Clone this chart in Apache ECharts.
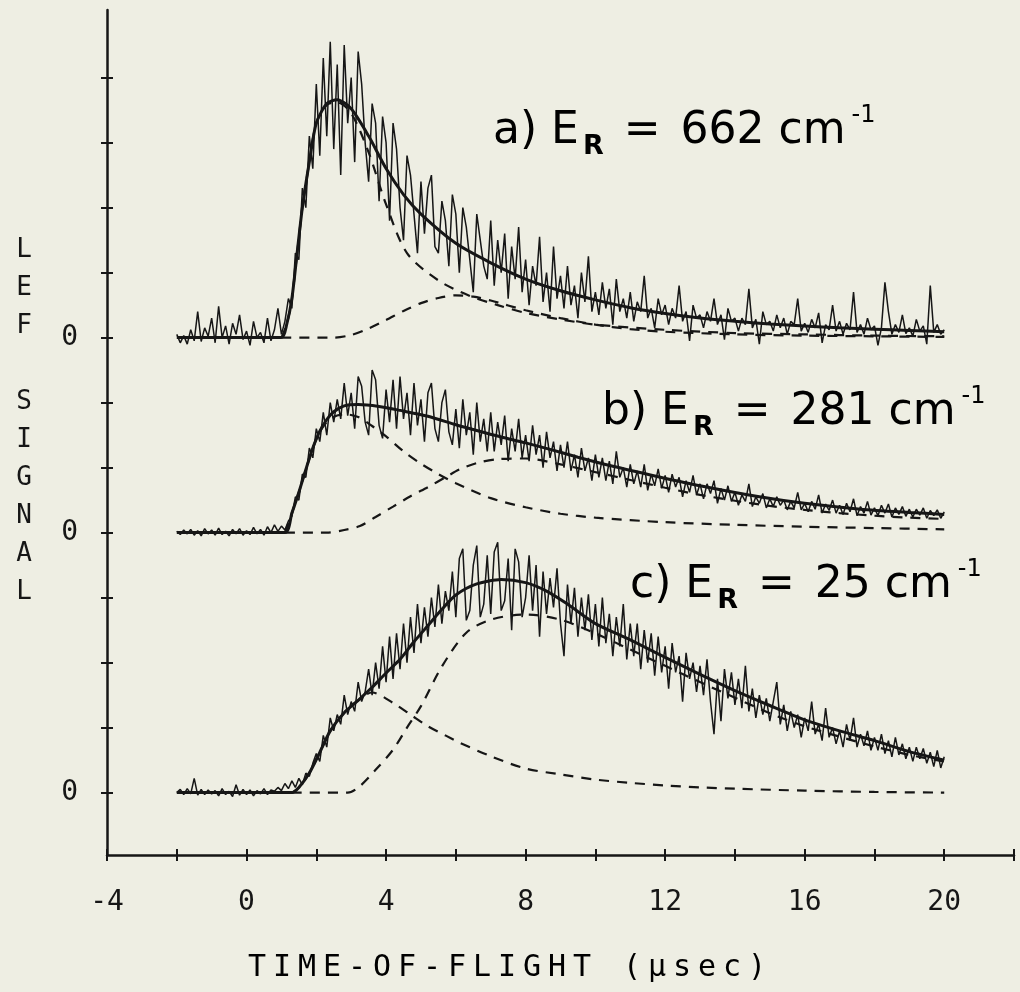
<!DOCTYPE html>
<html>
<head>
<meta charset="utf-8">
<script src="https://cdn.jsdelivr.net/npm/echarts@6/dist/echarts.min.js"></script>
<style>
  html, body { margin: 0; padding: 0; background: #eeeee3; }
  #chart { width: 1020px; height: 992px; }
</style>
</head>
<body>
<div id="chart"></div>
<script>
'use strict'
// raw LEF traces, sampled every 0.1 usec from -2 usec, values in 1/100 of a y tick
var xStart = -2, xStep = 0.1;

var noisyA = [
  5, -8, 3, -10, 12, -5, 40, -6, 15, 2,
  30, -8, 48, 0, 18, -10, 22, 5, 35, -3,
  10, -12, 25, 0, 8, -8, 30, -5, 12, 45,
  5,
  25, 60, 45, 130, 120, 230, 200, 310, 260, 390,
  280, 430, 310, 455, 290, 420, 250, 450, 330, 400,
  270, 440, 390, 300, 240, 360, 330, 210, 340, 300,
  180, 330, 290, 200, 150, 280, 250, 190, 130, 240,
  160, 230, 250, 140, 130, 210, 180, 110, 220, 190,
  100, 200, 170, 120, 70, 190, 150, 110, 90, 180,
  80, 150, 100, 160, 60, 140, 90, 170, 70, 120,
  50, 110, 80, 155, 55, 100, 40, 140, 60, 95,
  45, 110, 50, 80, 30, 100, 55, 125, 40, 70,
  35, 85, 45, 75, 20, 90, 40, 60, 30, 70,
  25, 55, 40, 95, 30, 45, 15, 60, 35, 50,
  20, 45, 30, 80, 25, 40, -5, 50, 30, 35,
  15, 40, 25, 60, 20, 35, -3, 45, 25, 30,
  10, 30, 20, 75, 15, 28, -10, 40, 20, 25,
  10, 35, 15, 30, 5, 25, 20, 60, 10, 22,
  8, 28, 15, 38, -8, 20, 12, 50, 10, 25,
  5, 22, 12, 70, 8, 20, 5, 30, 12, 18,
  -12, 15, 85, 40, 5, 20, 8, 35, 6, 15,
  2, 28, 10, 18, -10, 80, 8, 20, 5, 12
];

var noisyB = [
  2, -3, 4, -2, 5, -4, 3, -5, 6, -2,
  4, -4, 7, -3, 2, -5, 5, -2, 6, -4,
  3, -3, 8, -2, 5, -4, 9, 0, 12, 2,
  10, 4,
  18, 25, 55, 50, 90, 85, 130, 115, 160,
  140, 185, 150, 200, 170, 205, 175, 230, 180, 215,
  160, 240, 225, 170, 150, 250, 235, 165, 145, 220,
  170, 235, 160, 240, 175, 215, 150, 230, 165, 205,
  140, 215, 230, 160, 140, 200, 220, 155, 135, 190,
  130, 205, 150, 185, 120, 200, 140, 175, 125, 185,
  125, 170, 135, 180, 110, 160, 125, 175, 115, 150,
  110, 165, 120, 150, 100, 155, 115, 140, 95, 135,
  100, 140, 95, 120, 85, 130, 95, 115, 80, 120,
  85, 115, 80, 110, 75, 125, 85, 100, 70, 105,
  75, 95, 70, 105, 65, 90, 72, 98, 68, 88,
  62, 90, 70, 85, 55, 80, 62, 88, 58, 75,
  52, 75, 60, 80, 45, 68, 50, 72, 48, 62,
  42, 58, 48, 75, 40, 55, 45, 60, 38, 52,
  40, 55, 42, 50, 35, 48, 38, 62, 35, 45,
  32, 48, 36, 58, 30, 44, 34, 50, 30, 42,
  28, 45, 32, 52, 26, 40, 30, 48, 27, 38,
  26, 42, 30, 44, 24, 38, 28, 40, 25, 36,
  24, 36, 27, 38, 22, 34, 26, 35, 22, 32
];

var noisyC = [
  0, 5, -3, 6, -2, 22, -4, 5, -3, 4,
  -2, 3, -5, 6, -3, 2, -6, 12, -4, 5,
  -3, 4, -5, 3, -2, 6, -3, 4, 2, 8,
  3, 14, 6, 18,
  8, 22, 12, 30, 25, 45, 60, 48, 88, 70,
  115, 95, 120, 105, 150, 120, 140,
  125, 170, 140, 155, 190, 150, 200, 160, 225, 170,
  240, 175, 245, 190, 260, 200, 270, 215, 290, 230,
  285, 240, 300, 255, 320, 260, 310, 280, 340, 270,
  360, 375, 265, 280, 350, 380, 270, 290, 365, 275,
  370, 385, 280, 295, 360, 250, 375, 355, 270, 300,
  365, 280, 350, 240, 340, 275, 330, 285, 345, 260,
  210, 320, 260, 315, 240, 300, 250, 305, 235, 290,
  225, 300, 230, 275, 210, 270, 225, 290, 205, 260,
  210, 260, 190, 250, 200, 245, 180, 240, 185, 225,
  160, 230, 185, 210, 140, 215, 175, 200, 155, 195,
  150, 205, 140, 90, 175, 110, 190, 145, 185, 135,
  175, 130, 195, 125, 160, 115, 150, 120, 145, 110,
  140, 170, 105, 135, 95, 125, 100, 120, 85, 115,
  95, 140, 90, 105, 80, 130, 85, 100, 75, 95,
  70, 105, 80, 115, 70, 90, 72, 95, 65, 85,
  65, 90, 60, 80, 55, 85, 58, 75, 52, 70,
  48, 70, 52, 68, 45, 62, 40, 65, 38, 55
];

// fitted curves (solid) and the two components (dashed), in y ticks
var fitAX = [-2, 1.0, 1.15, 1.3, 1.45, 1.6, 1.8, 2.0, 2.3, 2.6, 3.0, 3.5, 4.0, 4.5, 5.0, 6.0, 7.0, 8.0, 9.0, 10, 11, 12, 13, 14, 15, 16, 17, 18, 19, 20];
var fitAY = [0, 0, 0.2, 0.6, 1.3, 2.0, 2.7, 3.3, 3.6, 3.66, 3.52, 3.1, 2.6, 2.2, 1.9, 1.45, 1.15, 0.9, 0.72, 0.58, 0.46, 0.37, 0.3, 0.25, 0.21, 0.18, 0.15, 0.13, 0.11, 0.09];
var fastAX = [1.0, 1.15, 1.3, 1.45, 1.6, 1.8, 2.0, 2.3, 2.6, 3.0, 3.5, 4.0, 4.6, 5.5, 6.4, 7.2, 8, 9, 10, 12, 14, 16, 18, 20];
var fastAY = [0, 0.2, 0.6, 1.3, 2.0, 2.7, 3.3, 3.58, 3.62, 3.45, 2.85, 2.05, 1.3, 0.88, 0.64, 0.5, 0.38, 0.28, 0.2, 0.12, 0.07, 0.05, 0.03, 0.02];
var slowAX = [1.0, 2.5, 3, 3.5, 4, 4.5, 5, 5.5, 6, 6.5, 7, 8, 9, 10, 11, 12, 14, 16, 18, 20];
var slowAY = [0, 0, 0.04, 0.14, 0.27, 0.41, 0.53, 0.61, 0.65, 0.63, 0.57, 0.42, 0.3, 0.2, 0.13, 0.09, 0.05, 0.03, 0.02, 0.01];

var fitBX = [-2, 1.1, 1.3, 1.5, 1.7, 1.9, 2.1, 2.3, 2.5, 2.8, 3.2, 3.8, 4.4, 5.2, 6.0, 6.6, 7.3, 8.0, 8.7, 9.5, 10.5, 11.8, 13, 14.7, 16, 17.6, 19, 20];
var fitBY = [0, 0, 0.3, 0.62, 0.97, 1.3, 1.56, 1.74, 1.86, 1.95, 1.97, 1.94, 1.88, 1.79, 1.66, 1.57, 1.47, 1.38, 1.28, 1.16, 1.02, 0.86, 0.72, 0.55, 0.45, 0.36, 0.31, 0.28];
var fastBX = [1.1, 1.3, 1.5, 1.7, 1.9, 2.1, 2.4, 2.8, 3.2, 3.6, 4.0, 4.5, 5.0, 5.5, 6.0, 7.0, 8.0, 9.0, 10, 12, 14, 16, 18, 20];
var fastBY = [0, 0.3, 0.62, 0.97, 1.3, 1.55, 1.75, 1.82, 1.78, 1.64, 1.48, 1.25, 1.06, 0.9, 0.76, 0.53, 0.39, 0.29, 0.23, 0.16, 0.12, 0.09, 0.07, 0.05];
var slowBX = [1.1, 2.3, 2.8, 3.25, 3.7, 4.2, 4.7, 5.2, 5.7, 6.1, 6.6, 7.2, 8.0, 9.0, 10, 11, 12, 13, 14, 15, 16, 17, 18, 19, 20];
var slowBY = [0, 0, 0.04, 0.1, 0.24, 0.4, 0.56, 0.7, 0.85, 0.97, 1.07, 1.13, 1.14, 1.05, 0.93, 0.81, 0.69, 0.58, 0.49, 0.41, 0.35, 0.3, 0.26, 0.23, 0.21];

var fitCX = [-2, 1.3, 1.5, 1.8, 2.1, 2.4, 2.8, 3.2, 3.6, 4.0, 4.4, 4.8, 5.2, 5.6, 6.0, 6.6, 7.3, 8.0, 8.6, 9.2, 10, 11, 12, 13, 14, 15, 16, 17, 18, 19, 20];
var fitCY = [0, 0, 0.08, 0.3, 0.62, 0.95, 1.23, 1.42, 1.62, 1.84, 2.05, 2.32, 2.57, 2.82, 3.04, 3.21, 3.28, 3.23, 3.1, 2.9, 2.6, 2.35, 2.08, 1.82, 1.57, 1.34, 1.12, 0.95, 0.8, 0.63, 0.5];
var fastCX = [1.3, 1.5, 1.8, 2.1, 2.4, 2.8, 3.2, 3.6, 4.2, 4.7, 5.2, 5.7, 6.1, 7.0, 8.0, 9.0, 10, 11, 12, 13, 14, 16, 18, 20];
var fastCY = [0, 0.08, 0.3, 0.62, 0.95, 1.23, 1.42, 1.54, 1.38, 1.2, 1.02, 0.88, 0.77, 0.56, 0.37, 0.28, 0.2, 0.15, 0.11, 0.08, 0.06, 0.03, 0.01, 0];
var slowCX = [1.3, 2.9, 3.25, 3.7, 4.2, 4.6, 5.0, 5.6, 6.3, 7.0, 8.0, 9.0, 10, 11, 12, 13, 14, 15, 16, 17, 18, 19, 20];
var slowCY = [0, 0, 0.1, 0.35, 0.66, 1.0, 1.33, 1.94, 2.46, 2.66, 2.74, 2.66, 2.45, 2.2, 1.95, 1.7, 1.46, 1.22, 1.02, 0.86, 0.71, 0.58, 0.48];

// vertical offset of each trace (in y ticks) and axis labels
var offsetA = 7, offsetB = 4, offsetC = 0;
var xLabelValues = [-4, 0, 4, 8, 12, 16, 20];
var yZeroValues = [offsetC, offsetB, offsetA];
var yTickValues = [0, 1, 2, 3, 4, 5, 6, 7, 8, 9, 10, 11];

var INK = '#161616';
var PLOT_FONT = 'DejaVu Sans Mono';
var NOTE_FONT = 'DejaVu Sans';

function raw(vals, off) {
  return vals.map(function (v, i) {
    return [+(xStart + i * xStep).toFixed(1), v / 100 + off];
  });
}
function curve(xs, ys, off) {
  return xs.map(function (x, i) { return [x, ys[i] + off]; });
}
function line(data, width, dashed, smooth, z) {
  return {
    type: 'line', data: data, symbol: 'none', showSymbol: false, silent: true,
    smooth: smooth, z: z,
    lineStyle: { color: INK, width: width, type: dashed ? [10, 8] : 'solid' }
  };
}

var series = [];
[[noisyA, fitAX, fitAY, fastAX, fastAY, slowAX, slowAY, offsetA],
 [noisyB, fitBX, fitBY, fastBX, fastBY, slowBX, slowBY, offsetB],
 [noisyC, fitCX, fitCY, fastCX, fastCY, slowCX, slowCY, offsetC]].forEach(function (t) {
  series.push(line(raw(t[0], t[7]), 1.5, false, false, 2));
  series.push(line(curve(t[3], t[4], t[7]), 2.2, true, 0.3, 3));
  series.push(line(curve(t[5], t[6], t[7]), 2.2, true, 0.3, 3));
  series.push(line(curve(t[1], t[2], t[7]), 3, false, 0.25, 4));
});

// title letters at a fixed pitch, like the plotter lettering
function spaced(str, key) {
  return str.split('').map(function (c) { return '{' + key + '|' + c + '}'; }).join('');
}

var noteRich = {
  t: { fontSize: 44, fontFamily: NOTE_FONT, color: INK, lineHeight: 56, verticalAlign: 'middle' },
  s: { fontSize: 27, fontFamily: NOTE_FONT, fontWeight: 'bold', color: INK, lineHeight: 22, verticalAlign: 'bottom', padding: [0, 0, 0, 4] },
  e: { fontSize: 44, fontFamily: NOTE_FONT, color: INK, lineHeight: 56, verticalAlign: 'middle', padding: [0, 20, 0, 20] },
  p: { fontSize: 24, fontFamily: NOTE_FONT, color: INK, lineHeight: 34, verticalAlign: 'top', padding: [0, 0, 0, 6] }
};
function note(letter, value, x, y) {
  return {
    type: 'text', x: x, y: y, silent: true,
    style: {
      text: '{t|' + letter + ') E}{s|R}{e|=}{t|' + value + ' cm}{p|-1}',
      rich: noteRich, verticalAlign: 'middle', align: 'left'
    }
  };
}

var chart = echarts.init(document.getElementById('chart'));
chart.setOption({
  backgroundColor: '#eeeee3',
  animation: false,
  grid: { left: 107, right: 6, top: 10, bottom: 137 },
  xAxis: [
    {
      type: 'value', min: -4, max: 22, interval: 2, position: 'bottom',
      axisLine: { onZero: false, lineStyle: { color: INK, width: 2.5 } },
      axisTick: { length: 6, lineStyle: { color: INK, width: 2 } },
      axisLabel: { customValues: xLabelValues, margin: 34, fontSize: 28, fontFamily: PLOT_FONT, color: INK },
      splitLine: { show: false }
    },
    {
      type: 'value', min: -4, max: 22, interval: 2, position: 'bottom',
      axisLine: { show: false, onZero: false },
      axisTick: { inside: true, length: 6, lineStyle: { color: INK, width: 2 } },
      axisLabel: { show: false },
      splitLine: { show: false }
    }
  ],
  yAxis: [
    {
      type: 'value', min: -0.96, max: 12.04, position: 'left',
      axisLine: { show: true, onZero: false, lineStyle: { color: INK, width: 2.5 } },
      axisTick: { show: true, customValues: yTickValues, length: 6, lineStyle: { color: INK, width: 2 } },
      axisLabel: {
        customValues: yZeroValues, margin: 29, fontSize: 28, fontFamily: PLOT_FONT, color: INK,
        formatter: function () { return '0'; }
      },
      splitLine: { show: false }
    },
    {
      type: 'value', min: -0.96, max: 12.04, position: 'left',
      axisLine: { show: false, onZero: false },
      axisTick: { show: true, inside: true, customValues: yTickValues, length: 6, lineStyle: { color: INK, width: 2 } },
      axisLabel: { show: false },
      splitLine: { show: false }
    }
  ],
  graphic: [
    {
      type: 'text', x: 24, y: 421, silent: true,
      style: {
        text: 'L\nE\nF\n\nS\nI\nG\nN\nA\nL', fill: INK, font: '26px "' + PLOT_FONT + '"',
        lineHeight: 38, align: 'center', verticalAlign: 'middle'
      }
    },
    {
      type: 'text', x: 507, y: 968, silent: true,
      style: {
        text: spaced('TIME-OF-FLIGHT (\u00b5sec)', 'c'),
        rich: { c: { width: 25, align: 'center', fontSize: 30, fontFamily: PLOT_FONT, color: INK } },
        align: 'center', verticalAlign: 'middle'
      }
    },
    note('a', '662', 493, 132),
    note('b', '281', 602, 413),
    note('c', '25', 630, 586)
  ],
  series: series
});
</script>
</body>
</html>
